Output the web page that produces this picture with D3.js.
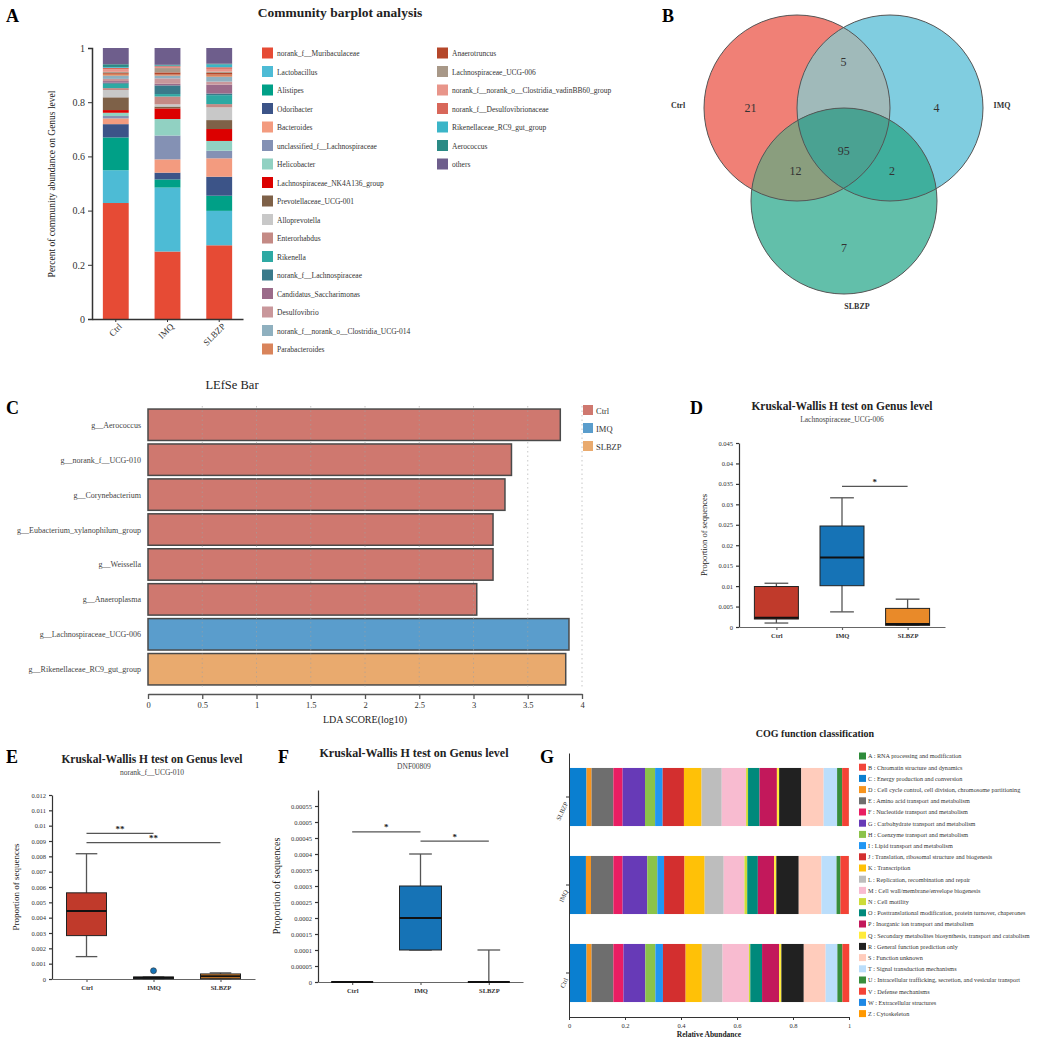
<!DOCTYPE html>
<html>
<head>
<meta charset="utf-8">
<script src="https://cdn.jsdelivr.net/npm/d3@7"></script>
<style>
  body { margin: 0; background: #fff; }
  text { font-family: "Liberation Serif", "Times New Roman", serif; fill: #222; }
</style>
</head>
<body>
<svg id="fig" width="1052" height="1040"></svg>
<script>
// ---- data ----
var groups = ["Ctrl", "IMQ", "SLBZP"];

// A: community barplot (genus level)
var genera = ["norank_f__Muribaculaceae", "Lactobacillus", "Alistipes", "Odoribacter", "Bacteroides",
  "unclassified_f__Lachnospiraceae", "Helicobacter", "Lachnospiraceae_NK4A136_group", "Prevotellaceae_UCG-001",
  "Alloprevotella", "Enterorhabdus", "Rikenella", "norank_f__Lachnospiraceae", "Candidatus_Saccharimonas",
  "Desulfovibrio", "norank_f__norank_o__Clostridia_UCG-014", "Parabacteroides", "Anaerotruncus",
  "Lachnospiraceae_UCG-006", "norank_f__norank_o__Clostridia_vadinBB60_group", "norank_f__Desulfovibrionaceae",
  "Rikenellaceae_RC9_gut_group", "Aerococcus", "others"];
var genusColors = ["#e64b35", "#4dbbd5", "#00a087", "#3c5488", "#f39b7f", "#8491b4", "#91d1c2", "#dc0000",
  "#7e6148", "#c8c8c8", "#c48a85", "#2ea9a3", "#3a7a8a", "#9b6b8a", "#c9979b", "#8fb0bf", "#d9845b",
  "#b5472a", "#a89888", "#e8958a", "#d8675a", "#3bb5c8", "#2a8a85", "#6e5e8c"];
var abundCtrl  = [0.428, 0.121, 0.121, 0.049, 0.021, 0.009, 0.012, 0.010, 0.047, 0.027, 0.007, 0.016,
  0.004, 0.006, 0.008, 0.012, 0.007, 0.003, 0.004, 0.010, 0.005, 0.003, 0.010, 0.060];
var abundIMQ   = [0.249, 0.236, 0.030, 0.025, 0.049, 0.088, 0.061, 0.039, 0.007, 0.008, 0.029, 0.009,
  0.032, 0.006, 0.020, 0.010, 0.004, 0.008, 0.016, 0.004, 0.003, 0.002, 0.003, 0.062];
var abundSLBZP = [0.272, 0.127, 0.056, 0.070, 0.068, 0.028, 0.036, 0.044, 0.033, 0.047, 0.012, 0.033,
  0.006, 0.033, 0.011, 0.018, 0.008, 0.006, 0.005, 0.010, 0.006, 0.010, 0.003, 0.058];

// B: venn counts
var vennRegions = ["Ctrl", "IMQ", "SLBZP", "Ctrl&IMQ", "Ctrl&SLBZP", "IMQ&SLBZP", "all"];
var vennCounts  = [21, 4, 7, 5, 12, 2, 95];

// C: LEfSe
var lefseTaxa = ["g__Aerococcus", "g__norank_f__UCG-010", "g__Corynebacterium", "g__Eubacterium_xylanophilum_group",
  "g__Weissella", "g__Anaeroplasma", "g__Lachnospiraceae_UCG-006", "g__Rikenellaceae_RC9_gut_group"];
var lefseLDA   = [3.80, 3.35, 3.29, 3.18, 3.18, 3.03, 3.88, 3.85];
var lefseGroup = ["Ctrl", "Ctrl", "Ctrl", "Ctrl", "Ctrl", "Ctrl", "IMQ", "SLBZP"];
var lefseTicks = [0, 0.5, 1, 1.5, 2, 2.5, 3, 3.5, 4];

// D/E/F: box stats [min, q1, median, q3, max]
var boxD = [[0.00097, 0.00195, 0.00227, 0.0099, 0.0107], [0.0037, 0.0101, 0.017, 0.0247, 0.0316], [0.0004, 0.0004, 0.00073, 0.00455, 0.0068]];
var boxE = [[0.00146, 0.00283, 0.00444, 0.00562, 0.00817], [0, 0.00002, 0.00008, 0.00013, 0.00013], [0, 0.00002, 0.00018, 0.00033, 0.0004]];
var outE = [[], [0.00054], []];
var boxF = [[0, 0, 0, 0, 0], [0.0001, 0.0001, 0.0002, 0.0003, 0.0004], [0, 0, 0, 0, 0.0001]];
var ticksD = [0, 0.005, 0.01, 0.015, 0.02, 0.025, 0.03, 0.035, 0.04, 0.045];
var ticksE = [0, 0.001, 0.002, 0.003, 0.004, 0.005, 0.006, 0.007, 0.008, 0.009, 0.01, 0.011, 0.012];
var ticksF = [0, 0.00005, 0.0001, 0.00015, 0.0002, 0.00025, 0.0003, 0.00035, 0.0004, 0.00045, 0.0005, 0.00055];
var sigD = [["IMQ", "SLBZP", 0.0344, "*"]];
var sigE = [["Ctrl", "IMQ", 0.0095, "**"], ["Ctrl", "SLBZP", 0.0089, "**"]];
var sigF = [["Ctrl", "IMQ", 0.000469, "*"], ["IMQ", "SLBZP", 0.00044, "*"]];

// G: COG
var cogCodes = ["A", "B", "C", "D", "E", "F", "G", "H", "I", "J", "K", "L", "M", "N", "O", "P", "Q", "R", "S", "T", "U", "V", "W", "Z"];
var cogNames = ["RNA processing and modification", "Chromatin structure and dynamics", "Energy production and conversion",
  "Cell cycle control, cell division, chromosome partitioning", "Amino acid transport and metabolism",
  "Nucleotide transport and metabolism", "Carbohydrate transport and metabolism", "Coenzyme transport and metabolism",
  "Lipid transport and metabolism", "Translation, ribosomal structure and biogenesis", "Transcription",
  "Replication, recombination and repair", "Cell wall/membrane/envelope biogenesis", "Cell motility",
  "Posttranslational modification, protein turnover, chaperones", "Inorganic ion transport and metabolism",
  "Secondary metabolites biosynthesis, transport and catabolism", "General function prediction only",
  "Function unknown", "Signal transduction mechanisms", "Intracellular trafficking, secretion, and vesicular transport",
  "Defense mechanisms", "Extracellular structures", "Cytoskeleton"];
var cogColors = ["#2e8b3a", "#f2453a", "#0a7fd0", "#f7941d", "#6e6e6e", "#e91e63", "#673ab7", "#8bc34a", "#2196f3",
  "#d32f2f", "#ffc107", "#bdbdbd", "#f8bbd0", "#cddc39", "#00897b", "#c2185b", "#ffeb3b", "#212121", "#ffccbc",
  "#bbdefb", "#388e3c", "#f44336", "#1e88e5", "#ff9800"];
var cogCtrl  = [0.0003, 0.0002, 0.062, 0.018, 0.078, 0.036, 0.078, 0.036, 0.027, 0.081, 0.058, 0.074, 0.094, 0.005,
  0.042, 0.061, 0.008, 0.080, 0.078, 0.042, 0.018, 0.024, 0.0002, 0.0003];
var cogIMQ   = [0.0003, 0.0002, 0.060, 0.018, 0.080, 0.033, 0.088, 0.036, 0.024, 0.073, 0.072, 0.068, 0.074, 0.010,
  0.038, 0.058, 0.008, 0.080, 0.081, 0.054, 0.014, 0.030, 0.0002, 0.0003];
var cogSLBZP = [0.0003, 0.0002, 0.062, 0.018, 0.078, 0.033, 0.080, 0.036, 0.027, 0.076, 0.063, 0.072, 0.087, 0.007,
  0.041, 0.062, 0.008, 0.079, 0.080, 0.048, 0.018, 0.024, 0.0002, 0.0003];

var groupColors = {Ctrl: "#cf786f", IMQ: "#5a9dcc", SLBZP: "#e9aa6e"};
var boxColors = ["#c03a2b", "#1673b6", "#e98a29"];

// ---- drawing ----
var svg = d3.select("#fig");
var SANS = '"Liberation Sans", Arial, sans-serif';

function letter(t, x, y) {
  svg.append("text").attr("x", x).attr("y", y).attr("font-family", SANS)
    .attr("font-weight", "bold").attr("font-size", 18).style("fill", "#000").text(t);
}
function styleAxis(g, fs) {
  g.selectAll("path,line").attr("stroke", "#333");
  g.selectAll("text").attr("font-family", '"Liberation Serif", serif').attr("font-size", fs).style("fill", "#333");
}
function rowsOf(keys, vals) {
  return groups.map(function(gname, i) {
    var r = {group: gname};
    keys.forEach(function(k, j) { r[k] = vals[i][j]; });
    return r;
  });
}

letter("A", 6, 22); letter("B", 662, 22); letter("C", 6, 414); letter("D", 690, 414);
letter("E", 6, 763); letter("F", 278, 763); letter("G", 540, 763);

// ---------- A ----------
(function() {
  var x = d3.scaleBand().domain(groups).range([92, 243]).paddingInner(0.5).paddingOuter(0.21);
  var y = d3.scaleLinear().domain([0, 1]).range([319, 48]);
  var stack = d3.stack().keys(genera)(rowsOf(genera, [abundCtrl, abundIMQ, abundSLBZP]));
  var color = d3.scaleOrdinal().domain(genera).range(genusColors);

  svg.append("text").attr("x", 340).attr("y", 17).attr("text-anchor", "middle")
    .attr("font-weight", "bold").attr("font-size", 13.5).text("Community barplot analysis");

  svg.append("g").selectAll("g").data(stack).enter().append("g")
    .attr("fill", function(d) { return color(d.key); })
    .selectAll("rect").data(function(d) { return d; }).enter().append("rect")
    .attr("x", function(d) { return x(d.data.group); })
    .attr("width", x.bandwidth())
    .attr("y", function(d) { return y(d[1]); })
    .attr("height", function(d) { return y(d[0]) - y(d[1]); });

  var ya = svg.append("g").attr("transform", "translate(92,0)")
    .call(d3.axisLeft(y).tickValues([0, 0.2, 0.4, 0.6, 0.8, 1]).tickSize(4)
      .tickFormat(function(d) { return (d === 0 || d === 1) ? d : d.toFixed(1); }));
  styleAxis(ya, 10);
  ya.select(".domain").attr("stroke-width", 1.5);
  var xa = svg.append("g").attr("transform", "translate(0,319)")
    .call(d3.axisBottom(x).tickSize(3).tickSizeOuter(0));
  styleAxis(xa, 9);
  xa.select(".domain").attr("stroke-width", 1.5);
  xa.selectAll("text").attr("text-anchor", "end").attr("dx", "-0.1em").attr("dy", "0.5em")
    .attr("transform", "rotate(-45)");

  svg.append("text").attr("transform", "translate(55,184) rotate(-90)").attr("text-anchor", "middle")
    .attr("font-size", 9.5).text("Percent of community abundance on Genus level");

  var leg = svg.append("g").selectAll("g").data(genera).enter().append("g")
    .attr("transform", function(d, i) {
      return i < 17 ? "translate(262," + (53 + i * 18.5) + ")" : "translate(437," + (53 + (i - 17) * 18.5) + ")";
    });
  leg.append("rect").attr("x", 0).attr("y", -5.5).attr("width", 11).attr("height", 11)
    .attr("fill", function(d) { return color(d); });
  leg.append("text").attr("x", 15).attr("y", 3).attr("font-size", 7.5).style("fill", "#333")
    .text(function(d) { return d; });
})();

// ---------- B ----------
(function() {
  var r = 93;
  var circles = [
    {name: "Ctrl", cx: 797, cy: 108, fill: "#f08076"},
    {name: "IMQ", cx: 890, cy: 108, fill: "#80cde0"},
    {name: "SLBZP", cx: 844, cy: 201, fill: "#62bfaa"}
  ];
  var defs = svg.append("defs");
  circles.forEach(function(c) {
    defs.append("clipPath").attr("id", "clip" + c.name)
      .append("circle").attr("cx", c.cx).attr("cy", c.cy).attr("r", r);
  });
  var g = svg.append("g");
  circles.forEach(function(c) {
    g.append("circle").attr("cx", c.cx).attr("cy", c.cy).attr("r", r).attr("fill", c.fill);
  });
  function clipped(base, clips, fill) {
    var holder = g;
    clips.forEach(function(cn) { holder = holder.append("g").attr("clip-path", "url(#clip" + cn + ")"); });
    holder.append("circle").attr("cx", base.cx).attr("cy", base.cy).attr("r", r).attr("fill", fill);
  }
  clipped(circles[1], ["Ctrl"], "#a0baba");
  clipped(circles[2], ["Ctrl"], "#8a9e7e");
  clipped(circles[2], ["IMQ"], "#3faf9d");
  clipped(circles[2], ["Ctrl", "IMQ"], "#4aa292");
  circles.forEach(function(c) {
    g.append("circle").attr("cx", c.cx).attr("cy", c.cy).attr("r", r)
      .attr("fill", "none").attr("stroke", "#555").attr("stroke-width", 1);
  });

  function mid(a, b) { return [(a.cx + b.cx) / 2, (a.cy + b.cy) / 2]; }
  function away(p, c, k) {
    var dx = p[0] - c.cx, dy = p[1] - c.cy, L = Math.sqrt(dx * dx + dy * dy);
    return [p[0] + dx / L * k, p[1] + dy / L * k];
  }
  var cen = [d3.mean(circles, function(c) { return c.cx; }), d3.mean(circles, function(c) { return c.cy; })];
  var pos = [
    [circles[0].cx - r / 2, circles[0].cy],
    [circles[1].cx + r / 2, circles[1].cy],
    [circles[2].cx, circles[2].cy + r / 2],
    [mid(circles[0], circles[1])[0], mid(circles[0], circles[1])[1] - r / 2],
    away(mid(circles[0], circles[2]), circles[1], 30),
    away(mid(circles[1], circles[2]), circles[0], 30),
    [cen[0], cen[1] + 12]
  ];
  g.selectAll("text.num").data(vennCounts).enter().append("text").attr("class", "num")
    .attr("x", function(d, i) { return pos[i][0]; })
    .attr("y", function(d, i) { return pos[i][1] + 4; })
    .attr("text-anchor", "middle").attr("font-size", 12).style("fill", "#333")
    .text(function(d) { return d; });
  g.append("text").attr("x", 678).attr("y", 108).attr("text-anchor", "middle").attr("font-size", 8)
    .attr("font-weight", "bold").style("fill", "#333").text(circles[0].name);
  g.append("text").attr("x", 1002).attr("y", 108).attr("text-anchor", "middle").attr("font-size", 8)
    .attr("font-weight", "bold").style("fill", "#333").text(circles[1].name);
  g.append("text").attr("x", 857).attr("y", 309).attr("text-anchor", "middle").attr("font-size", 8)
    .attr("font-weight", "bold").style("fill", "#333").text(circles[2].name);
})();

// ---------- C ----------
(function() {
  var y = d3.scaleBand().domain(lefseTaxa).range([408, 686]).paddingInner(0.1).paddingOuter(0.03);
  var x = d3.scaleLinear().domain([0, 4]).range([148, 582]);

  svg.append("text").attr("x", 232).attr("y", 389).attr("text-anchor", "middle")
    .attr("font-size", 12.5).text("LEfSe Bar");

  svg.append("g").selectAll("rect").data(lefseLDA).enter().append("rect")
    .attr("x", x(0))
    .attr("y", function(d, i) { return y(lefseTaxa[i]); })
    .attr("width", function(d) { return x(d) - x(0); })
    .attr("height", y.bandwidth())
    .attr("fill", function(d, i) { return groupColors[lefseGroup[i]]; })
    .attr("stroke", "#4a4a4a").attr("stroke-width", 1.5);

  svg.append("g").selectAll("line").data(lefseTicks.slice(1)).enter().append("line")
    .attr("x1", function(d) { return x(d); }).attr("x2", function(d) { return x(d); })
    .attr("y1", 406).attr("y2", 688)
    .attr("stroke", "#a0a0a0").attr("stroke-opacity", 0.6).attr("stroke-dasharray", "1.5,3");

  svg.append("g").selectAll("text").data(lefseTaxa).enter().append("text")
    .attr("x", 141).attr("y", function(d) { return y(d) + y.bandwidth() / 2 + 3; })
    .attr("text-anchor", "end").attr("font-size", 8).style("fill", "#444")
    .text(function(d) { return d; });

  var xa = svg.append("g").attr("transform", "translate(0,694)")
    .call(d3.axisBottom(x).tickValues(lefseTicks).tickSize(5).tickSizeOuter(0)
      .tickFormat(function(d) { return d; }));
  styleAxis(xa, 8.5);
  xa.selectAll("path,line").attr("stroke", "#555").attr("stroke-width", 1.3);
  svg.append("text").attr("x", 365).attr("y", 723).attr("text-anchor", "middle")
    .attr("font-size", 10).text("LDA SCORE(log10)");

  var leg = svg.append("g").selectAll("g").data(groups).enter().append("g")
    .attr("transform", function(d, i) { return "translate(583," + (405 + i * 18) + ")"; });
  leg.append("rect").attr("width", 10).attr("height", 10).attr("fill", function(d) { return groupColors[d]; });
  leg.append("text").attr("x", 13).attr("y", 8.5).attr("font-size", 8.5).style("fill", "#333")
    .text(function(d) { return d; });
})();

// ---------- D/E/F boxplots ----------
function boxPanel(o) {
  var x = d3.scalePoint().domain(groups).range([o.x0, o.x1]).padding(o.pad);
  var y = d3.scaleLinear().domain([0, o.ymax]).range([o.yz, o.yt]);
  var g = svg.append("g");

  g.append("text").attr("x", o.cx).attr("y", o.ty).attr("text-anchor", "middle")
    .attr("font-weight", "bold").attr("font-size", o.tfs).text("Kruskal-Wallis H test on Genus level");
  g.append("text").attr("x", o.cx).attr("y", o.ty + 12).attr("text-anchor", "middle")
    .attr("font-size", o.sfs).style("fill", "#444").text(o.sub);

  var ya = g.append("g").attr("transform", "translate(" + o.x0 + ",0)")
    .call(d3.axisLeft(y).tickValues(o.ticks).tickSize(3).tickSizeOuter(0)
      .tickFormat(function(d) { return d === 0 ? "0" : String(+d.toFixed(6)); }));
  styleAxis(ya, o.kfs);
  ya.selectAll("path,line").attr("stroke-width", 1.2);
  var xa = g.append("g").attr("transform", "translate(0," + o.yz + ")")
    .call(d3.axisBottom(x).tickSize(3).tickSizeOuter(0));
  styleAxis(xa, o.kfs);
  xa.selectAll("path,line").attr("stroke", "#666").attr("stroke-width", 1.2);
  xa.selectAll("text").attr("font-weight", "bold");
  g.append("text").attr("transform", "translate(" + o.lx + "," + ((o.yz + o.yt) / 2) + ") rotate(-90)")
    .attr("text-anchor", "middle").attr("font-size", o.lfs).text("Proportion of sequences");

  o.data.forEach(function(s, i) {
    var cx = x(groups[i]), w = o.bw;
    var bg = g.append("g");
    bg.append("line").attr("x1", cx).attr("x2", cx).attr("y1", y(s[0])).attr("y2", y(s[4]))
      .attr("stroke", "#555").attr("stroke-width", 1.3);
    [s[0], s[4]].forEach(function(v) {
      bg.append("line").attr("x1", cx - w * 0.27).attr("x2", cx + w * 0.27).attr("y1", y(v)).attr("y2", y(v))
        .attr("stroke", "#555").attr("stroke-width", 1.3);
    });
    bg.append("rect").attr("x", cx - w / 2).attr("width", w)
      .attr("y", y(s[3])).attr("height", y(s[1]) - y(s[3]))
      .attr("fill", boxColors[i]).attr("stroke", "#222").attr("stroke-width", 1);
    bg.append("line").attr("x1", cx - w / 2).attr("x2", cx + w / 2).attr("y1", y(s[2])).attr("y2", y(s[2]))
      .attr("stroke", "#111").attr("stroke-width", 2);
    (o.out ? o.out[i] : []).forEach(function(v) {
      bg.append("circle").attr("cx", cx).attr("cy", y(v)).attr("r", 3)
        .attr("fill", boxColors[i]).attr("stroke", "#333").attr("stroke-width", 0.6);
    });
  });

  o.sig.forEach(function(s) {
    var a = x(s[0]), b = x(s[1]);
    g.append("line").attr("x1", a).attr("x2", b).attr("y1", y(s[2])).attr("y2", y(s[2]))
      .attr("stroke", "#555").attr("stroke-width", 1.3);
    g.append("text").attr("x", (a + b) / 2).attr("y", y(s[2]) - 1.5).attr("text-anchor", "middle")
      .attr("font-size", 9).attr("font-weight", "bold").text(s[3]);
  });
}

boxPanel({x0: 739, x1: 945, pad: 0.57, yz: 627, yt: 443, ymax: 0.045, ticks: ticksD, data: boxD, sig: sigD,
  bw: 44, cx: 842, ty: 410, tfs: 11.5, sub: "Lachnospiraceae_UCG-006", sfs: 7.5, kfs: 6.5, lx: 707, lfs: 8.5});
boxPanel({x0: 52, x1: 255, pad: 0.515, yz: 979, yt: 795, ymax: 0.012, ticks: ticksE, data: boxE, out: outE, sig: sigE,
  bw: 40, cx: 152, ty: 763, tfs: 11.5, sub: "norank_f__UCG-010", sfs: 7.5, kfs: 6.5, lx: 19, lfs: 9});
boxPanel({x0: 318, x1: 523, pad: 0.5, yz: 982, yt: 790, ymax: 0.0006, ticks: ticksF, data: boxF, sig: sigF,
  bw: 42, cx: 414, ty: 757, tfs: 12, sub: "DNF00809", sfs: 7.5, kfs: 6.5, lx: 280, lfs: 10});

// ---------- G ----------
(function() {
  var order = ["SLBZP", "IMQ", "Ctrl"];
  var y = d3.scaleBand().domain(order).range([753, 1017]).paddingInner(0.34).paddingOuter(0.17);
  var x = d3.scaleLinear().domain([0, 1]).range([569, 849]);
  var color = d3.scaleOrdinal().domain(cogCodes).range(cogColors);
  var stack = d3.stack().keys(cogCodes)(rowsOf(cogCodes, [cogCtrl, cogIMQ, cogSLBZP]));

  svg.append("text").attr("x", 815).attr("y", 737).attr("text-anchor", "middle")
    .attr("font-weight", "bold").attr("font-size", 10).text("COG function classification");

  svg.append("g").selectAll("g").data(stack).enter().append("g")
    .attr("fill", function(d) { return color(d.key); })
    .selectAll("rect").data(function(d) { return d; }).enter().append("rect")
    .attr("y", function(d) { return y(d.data.group); })
    .attr("height", y.bandwidth())
    .attr("x", function(d) { return x(d[0]); })
    .attr("width", function(d) { return x(d[1]) - x(d[0]); });

  var ya = svg.append("g").attr("transform", "translate(569,0)")
    .call(d3.axisLeft(y).tickSize(3).tickSizeOuter(0));
  styleAxis(ya, 6.5);
  ya.selectAll("text").attr("text-anchor", "end").attr("dx", 0).attr("dy", "0.3em")
    .attr("transform", "rotate(-65)");
  var xa = svg.append("g").attr("transform", "translate(0,1017)")
    .call(d3.axisBottom(x).tickValues([0, 0.2, 0.4, 0.6, 0.8, 1]).tickSize(3).tickSizeOuter(0)
      .tickFormat(function(d) { return (d === 0 || d === 1) ? d : d.toFixed(1); }));
  styleAxis(xa, 6.5);
  svg.append("text").attr("x", 709).attr("y", 1037).attr("text-anchor", "middle")
    .attr("font-weight", "bold").attr("font-size", 7.5).text("Relative Abundance");

  var leg = svg.append("g").selectAll("g").data(cogCodes).enter().append("g")
    .attr("transform", function(d, i) { return "translate(859," + (756 + i * 11.2) + ")"; });
  leg.append("rect").attr("x", 0).attr("y", -3.5).attr("width", 7).attr("height", 7)
    .attr("fill", function(d) { return color(d); });
  leg.append("text").attr("x", 9).attr("y", 2.3).attr("font-size", 6.2).style("fill", "#333")
    .text(function(d, i) { return d + " : " + cogNames[i]; });
})();
</script>
</body>
</html>
